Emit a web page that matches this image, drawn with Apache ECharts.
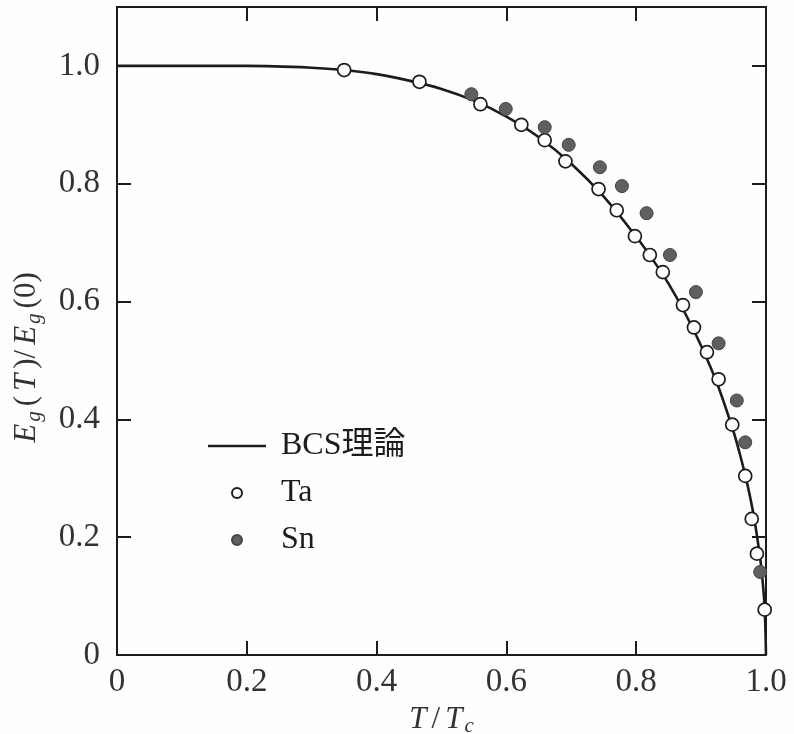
<!DOCTYPE html>
<html>
<head>
<meta charset="utf-8">
<script src="https://cdn.jsdelivr.net/npm/echarts@6/dist/echarts.min.js"></script>
<style>
  html, body { margin: 0; padding: 0; background: #fefefc; }
  #chart { width: 794px; height: 734px; }
</style>
</head>
<body>
<div id="chart"></div>
<script>
// Reduced temperature T/Tc and normalized gap Eg(T)/Eg(0)
const bcsT   = [0, 0.1, 0.2, 0.3, 0.35, 0.4, 0.45, 0.5, 0.55, 0.6, 0.65, 0.7, 0.75, 0.8, 0.825, 0.85, 0.875, 0.9, 0.925, 0.95, 0.96, 0.97, 0.98, 0.99, 0.995, 0.998, 1.0];
const bcsGap = [1.0, 1.0, 1.0, 0.997, 0.993, 0.986, 0.975, 0.961, 0.941, 0.914, 0.879, 0.834, 0.778, 0.710, 0.672, 0.630, 0.581, 0.525, 0.460, 0.379, 0.340, 0.296, 0.243, 0.173, 0.123, 0.078, 0];

const taT   = [0.350, 0.466, 0.560, 0.623, 0.659, 0.691, 0.742, 0.770, 0.798, 0.821, 0.841, 0.872, 0.889, 0.909, 0.927, 0.948, 0.968, 0.978, 0.986, 0.998];
const taGap = [0.993, 0.973, 0.935, 0.900, 0.874, 0.838, 0.791, 0.755, 0.711, 0.679, 0.650, 0.594, 0.556, 0.514, 0.468, 0.391, 0.304, 0.231, 0.172, 0.077];

const snT   = [0.546, 0.599, 0.659, 0.696, 0.744, 0.778, 0.816, 0.852, 0.892, 0.927, 0.955, 0.968, 0.991];
const snGap = [0.952, 0.927, 0.896, 0.866, 0.828, 0.796, 0.750, 0.679, 0.616, 0.529, 0.432, 0.361, 0.141];

const xTicks = [0, 0.2, 0.4, 0.6, 0.8, 1.0];
const yTicks = [0, 0.2, 0.4, 0.6, 0.8, 1.0];

const zip = (a, b) => a.map((v, i) => [v, b[i]]);
const serif = "'Liberation Serif', 'Times New Roman', serif";
const ink = '#1c1c1c';
const fmt = v => (v === 0 ? '0' : v.toFixed(1));

const tickStyle = { show: true, inside: true, length: 14, lineStyle: { color: ink, width: 2 } };
const baseAxis = {
  axisLine: { show: true, onZero: false, lineStyle: { color: ink, width: 2 } },
  splitLine: { show: false }
};
// math-style axis titles: italic symbols, upright punctuation, lowered subscripts
const nameRich = {
  i: { fontFamily: serif, fontStyle: 'italic', fontSize: 31, color: '#333', padding: [0, 2, 0, 2] },
  n: { fontFamily: serif, fontSize: 31, color: '#333', padding: [0, 3, 0, 3] },
  s: { fontFamily: serif, fontStyle: 'italic', fontSize: 21, color: '#333', padding: [15, 2, 0, 0] }
};

const chart = echarts.init(document.getElementById('chart'), null, { renderer: 'canvas' });
chart.setOption({
  backgroundColor: '#fefefc',
  animation: false,
  grid: { left: 117, right: 28, top: 7, bottom: 79, containLabel: false, outerBoundsMode: 'none' },
  legend: {
    orient: 'vertical',
    left: 208,
    top: 430,
    padding: 0,
    itemWidth: 58,
    itemHeight: 10,
    itemGap: 15,
    data: [
      { name: 'BCS理論', icon: 'path://M0,0 L58,0 L58,2.6 L0,2.6 Z', itemStyle: { color: ink } },
      { name: 'Ta' },
      { name: 'Sn' }
    ],
    textStyle: {
      fontFamily: serif + ", 'Noto Sans CJK JP'",
      fontSize: 32,
      color: ink,
      padding: [0, 0, 0, 10]
    }
  },
  xAxis: [
    Object.assign({}, baseAxis, {
      type: 'value', min: 0, max: 1.0, interval: 0.2, position: 'bottom',
      name: '{i|T}{n|/}{i|T}{s|c}', nameLocation: 'middle', nameGap: 45,
      nameTextStyle: { rich: nameRich },
      axisTick: Object.assign({ customValues: xTicks }, tickStyle),
      axisLabel: { margin: 11, fontFamily: serif, fontSize: 33, color: '#333', formatter: fmt,
                   customValues: xTicks }
    }),
    Object.assign({}, baseAxis, {
      type: 'value', min: 0, max: 1.0, interval: 0.2, position: 'top',
      axisTick: Object.assign({ customValues: xTicks }, tickStyle),
      axisLabel: { show: false }
    })
  ],
  yAxis: [
    Object.assign({}, baseAxis, {
      type: 'value', min: 0, max: 1.1, interval: 0.2, position: 'left',
      name: '{i|E}{s|g}{n|(}{i|T}{n|)/}{i|E}{s|g}{n|(0)}', nameLocation: 'middle', nameGap: 72,
      nameTextStyle: { padding: [0, 52, 0, 0], rich: nameRich },
      axisTick: Object.assign({ customValues: yTicks }, tickStyle),
      axisLabel: { margin: 17, fontFamily: serif, fontSize: 33, color: '#333', formatter: fmt,
                   customValues: yTicks }
    }),
    Object.assign({}, baseAxis, {
      type: 'value', min: 0, max: 1.1, interval: 0.2, position: 'right',
      axisTick: Object.assign({ customValues: yTicks }, tickStyle),
      axisLabel: { show: false }
    })
  ],
  series: [
    {
      name: 'BCS理論', type: 'line', data: zip(bcsT, bcsGap),
      symbol: 'none', smooth: 0.35,
      lineStyle: { color: ink, width: 2.6 }, itemStyle: { color: ink }, z: 2
    },
    {
      name: 'Ta', type: 'scatter', data: zip(taT, taGap),
      symbol: 'circle', symbolSize: 13,
      itemStyle: { color: '#ffffff', borderColor: ink, borderWidth: 1.7, opacity: 1 }, z: 3
    },
    {
      name: 'Sn', type: 'scatter', data: zip(snT, snGap),
      symbol: 'circle', symbolSize: 13,
      itemStyle: { color: '#5f5f5f', borderColor: '#444', borderWidth: 1, opacity: 1 }, z: 3
    }
  ]
});
</script>
</body>
</html>
